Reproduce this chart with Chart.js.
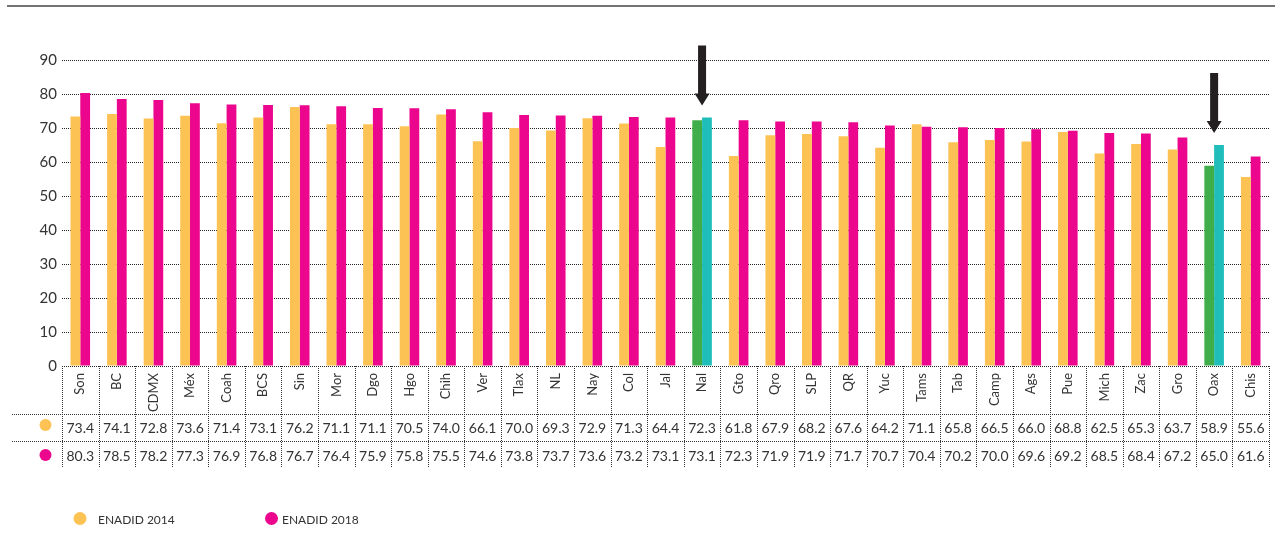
<!DOCTYPE html>
<html>
<head>
<meta charset="utf-8">
<script src="https://cdn.jsdelivr.net/npm/chart.js@4.4.1/dist/chart.umd.min.js"></script>
<style>
  html, body { margin: 0; padding: 0; background: #fff; }
  #wrap { width: 1281px; height: 533px; position: relative; }
</style>
</head>
<body>
<div id="wrap"><canvas id="myChart"></canvas></div>
<script>
const states = ['Son','BC','CDMX','Méx','Coah','BCS','Sin','Mor','Dgo','Hgo','Chih','Ver','Tlax','NL','Nay','Col','Jal','Nal','Gto','Qro','SLP','QR','Yuc','Tams','Tab','Camp','Ags','Pue','Mich','Zac','Gro','Oax','Chis'];
const enadid2014 = [73.4,74.1,72.8,73.6,71.4,73.1,76.2,71.1,71.1,70.5,74.0,66.1,70.0,69.3,72.9,71.3,64.4,72.3,61.8,67.9,68.2,67.6,64.2,71.1,65.8,66.5,66.0,68.8,62.5,65.3,63.7,58.9,55.6];
const enadid2018 = [80.3,78.5,78.2,77.3,76.9,76.8,76.7,76.4,75.9,75.8,75.5,74.6,73.8,73.7,73.6,73.2,73.1,73.1,72.3,71.9,71.9,71.7,70.7,70.4,70.2,70.0,69.6,69.2,68.5,68.4,67.2,65.0,61.6];
const highlighted = ['Nal', 'Oax'];
const seriesNames = ['ENADID 2014', 'ENADID 2018'];

const YELLOW = '#FDC254', MAGENTA = '#EC068D', GREEN = '#3FAE4A', TEAL = '#1FBEBA';
const TXT = '#333333';
const FONT = 'Lato, "Open Sans", sans-serif';

// highlighted states get green / teal instead of the series colours
const colors2014 = states.map(s => highlighted.includes(s) ? GREEN : YELLOW);
const colors2018 = states.map(s => highlighted.includes(s) ? TEAL : MAGENTA);

const tablePlugin = {
  id: 'tablePlugin',
  afterDraw(chart) {
    const ctx = chart.ctx;
    const xs = chart.scales.x, ys = chart.scales.y;
    const area = chart.chartArea;
    const w = xs.getPixelForValue(1) - xs.getPixelForValue(0);
    const left = xs.getPixelForValue(0) - w / 2;
    const row1 = 414, row2 = 441, rowEnd = 468;

    ctx.save();
    // top rule
    ctx.strokeStyle = '#444';
    ctx.lineWidth = 1.5;
    ctx.beginPath();
    ctx.moveTo(7, 6); ctx.lineTo(1275, 6);
    ctx.stroke();

    // dotted table lines
    ctx.strokeStyle = '#333';
    ctx.lineWidth = 1;
    ctx.setLineDash([1, 1]);
    for (let i = 0; i <= states.length; i++) {
      const x = Math.round(left + i * w) + 0.5;
      ctx.beginPath();
      ctx.moveTo(x, area.bottom);
      ctx.lineTo(x, rowEnd);
      ctx.stroke();
    }
    [row1, row2].forEach(y => {
      ctx.beginPath();
      ctx.moveTo(12, y + 0.5);
      ctx.lineTo(left + states.length * w, y + 0.5);
      ctx.stroke();
    });
    ctx.setLineDash([]);

    // values
    ctx.fillStyle = TXT;
    ctx.font = '14px ' + FONT;
    ctx.textAlign = 'center';
    ctx.textBaseline = 'middle';
    states.forEach((s, i) => {
      const cx = xs.getPixelForValue(i);
      ctx.fillText(enadid2014[i].toFixed(1), cx, 428);
      ctx.fillText(enadid2018[i].toFixed(1), cx, 456);
    });

    // row markers
    ctx.fillStyle = YELLOW;
    ctx.beginPath(); ctx.arc(45.5, 425, 6, 0, Math.PI * 2); ctx.fill();
    ctx.fillStyle = MAGENTA;
    ctx.beginPath(); ctx.arc(45.5, 455, 6, 0, Math.PI * 2); ctx.fill();

    // legend
    ctx.fillStyle = YELLOW;
    ctx.beginPath(); ctx.arc(80, 518.5, 6.5, 0, Math.PI * 2); ctx.fill();
    ctx.fillStyle = MAGENTA;
    ctx.beginPath(); ctx.arc(271.5, 518.5, 6.5, 0, Math.PI * 2); ctx.fill();
    ctx.fillStyle = TXT;
    ctx.font = '12px ' + FONT;
    ctx.textAlign = 'left';
    ctx.fillText(seriesNames[0], 98, 520.5);
    ctx.fillText(seriesNames[1], 282, 520.5);

    // arrows over highlighted states
    ctx.fillStyle = '#231F20';
    highlighted.forEach(s => {
      const i = states.indexOf(s);
      const cx = xs.getPixelForValue(i);
      const tip = ys.getPixelForValue(Math.max(enadid2014[i], enadid2018[i])) - 12;
      const top = tip - 60;
      ctx.beginPath();
      ctx.moveTo(cx - 4, top);
      ctx.lineTo(cx + 4, top);
      ctx.lineTo(cx + 4, tip - 12);
      ctx.lineTo(cx + 7.5, tip - 12);
      ctx.lineTo(cx, tip);
      ctx.lineTo(cx - 7.5, tip - 12);
      ctx.lineTo(cx - 4, tip - 12);
      ctx.closePath();
      ctx.fill();
    });
    ctx.restore();
  }
};

const ctx = document.getElementById('myChart').getContext('2d');
let myChart = new Chart(ctx, {
  type: 'bar',
  data: {
    labels: states,
    datasets: [
      { label: seriesNames[0], data: enadid2014, backgroundColor: colors2014, borderWidth: 0 },
      { label: seriesNames[1], data: enadid2018, backgroundColor: colors2018, borderWidth: 0 }
    ]
  },
  options: {
    responsive: true,
    maintainAspectRatio: false,
    animation: false,
    layout: { padding: { top: 60, right: 12, bottom: 121, left: 0 } },
    plugins: { legend: { display: false }, tooltip: { enabled: false } },
    datasets: { bar: { categoryPercentage: 0.535, barPercentage: 1 } },
    scales: {
      x: {
        grid: { display: false, drawTicks: false },
        border: { display: false },
        ticks: {
          color: TXT, font: { family: FONT, size: 13 },
          minRotation: 90, maxRotation: 90, autoSkip: false, padding: 7
        },
        afterFit: s => { s.height = 46; }
      },
      y: {
        min: 0, max: 90,
        grid: { color: '#222', lineWidth: 1, drawTicks: false },
        border: { display: false, dash: [1, 1] },
        ticks: { stepSize: 10, color: TXT, font: { family: FONT, size: 15 }, padding: 5 },
        afterFit: s => { s.width = 62; }
      }
    }
  },
  plugins: [tablePlugin]
});
</script>
</body>
</html>
